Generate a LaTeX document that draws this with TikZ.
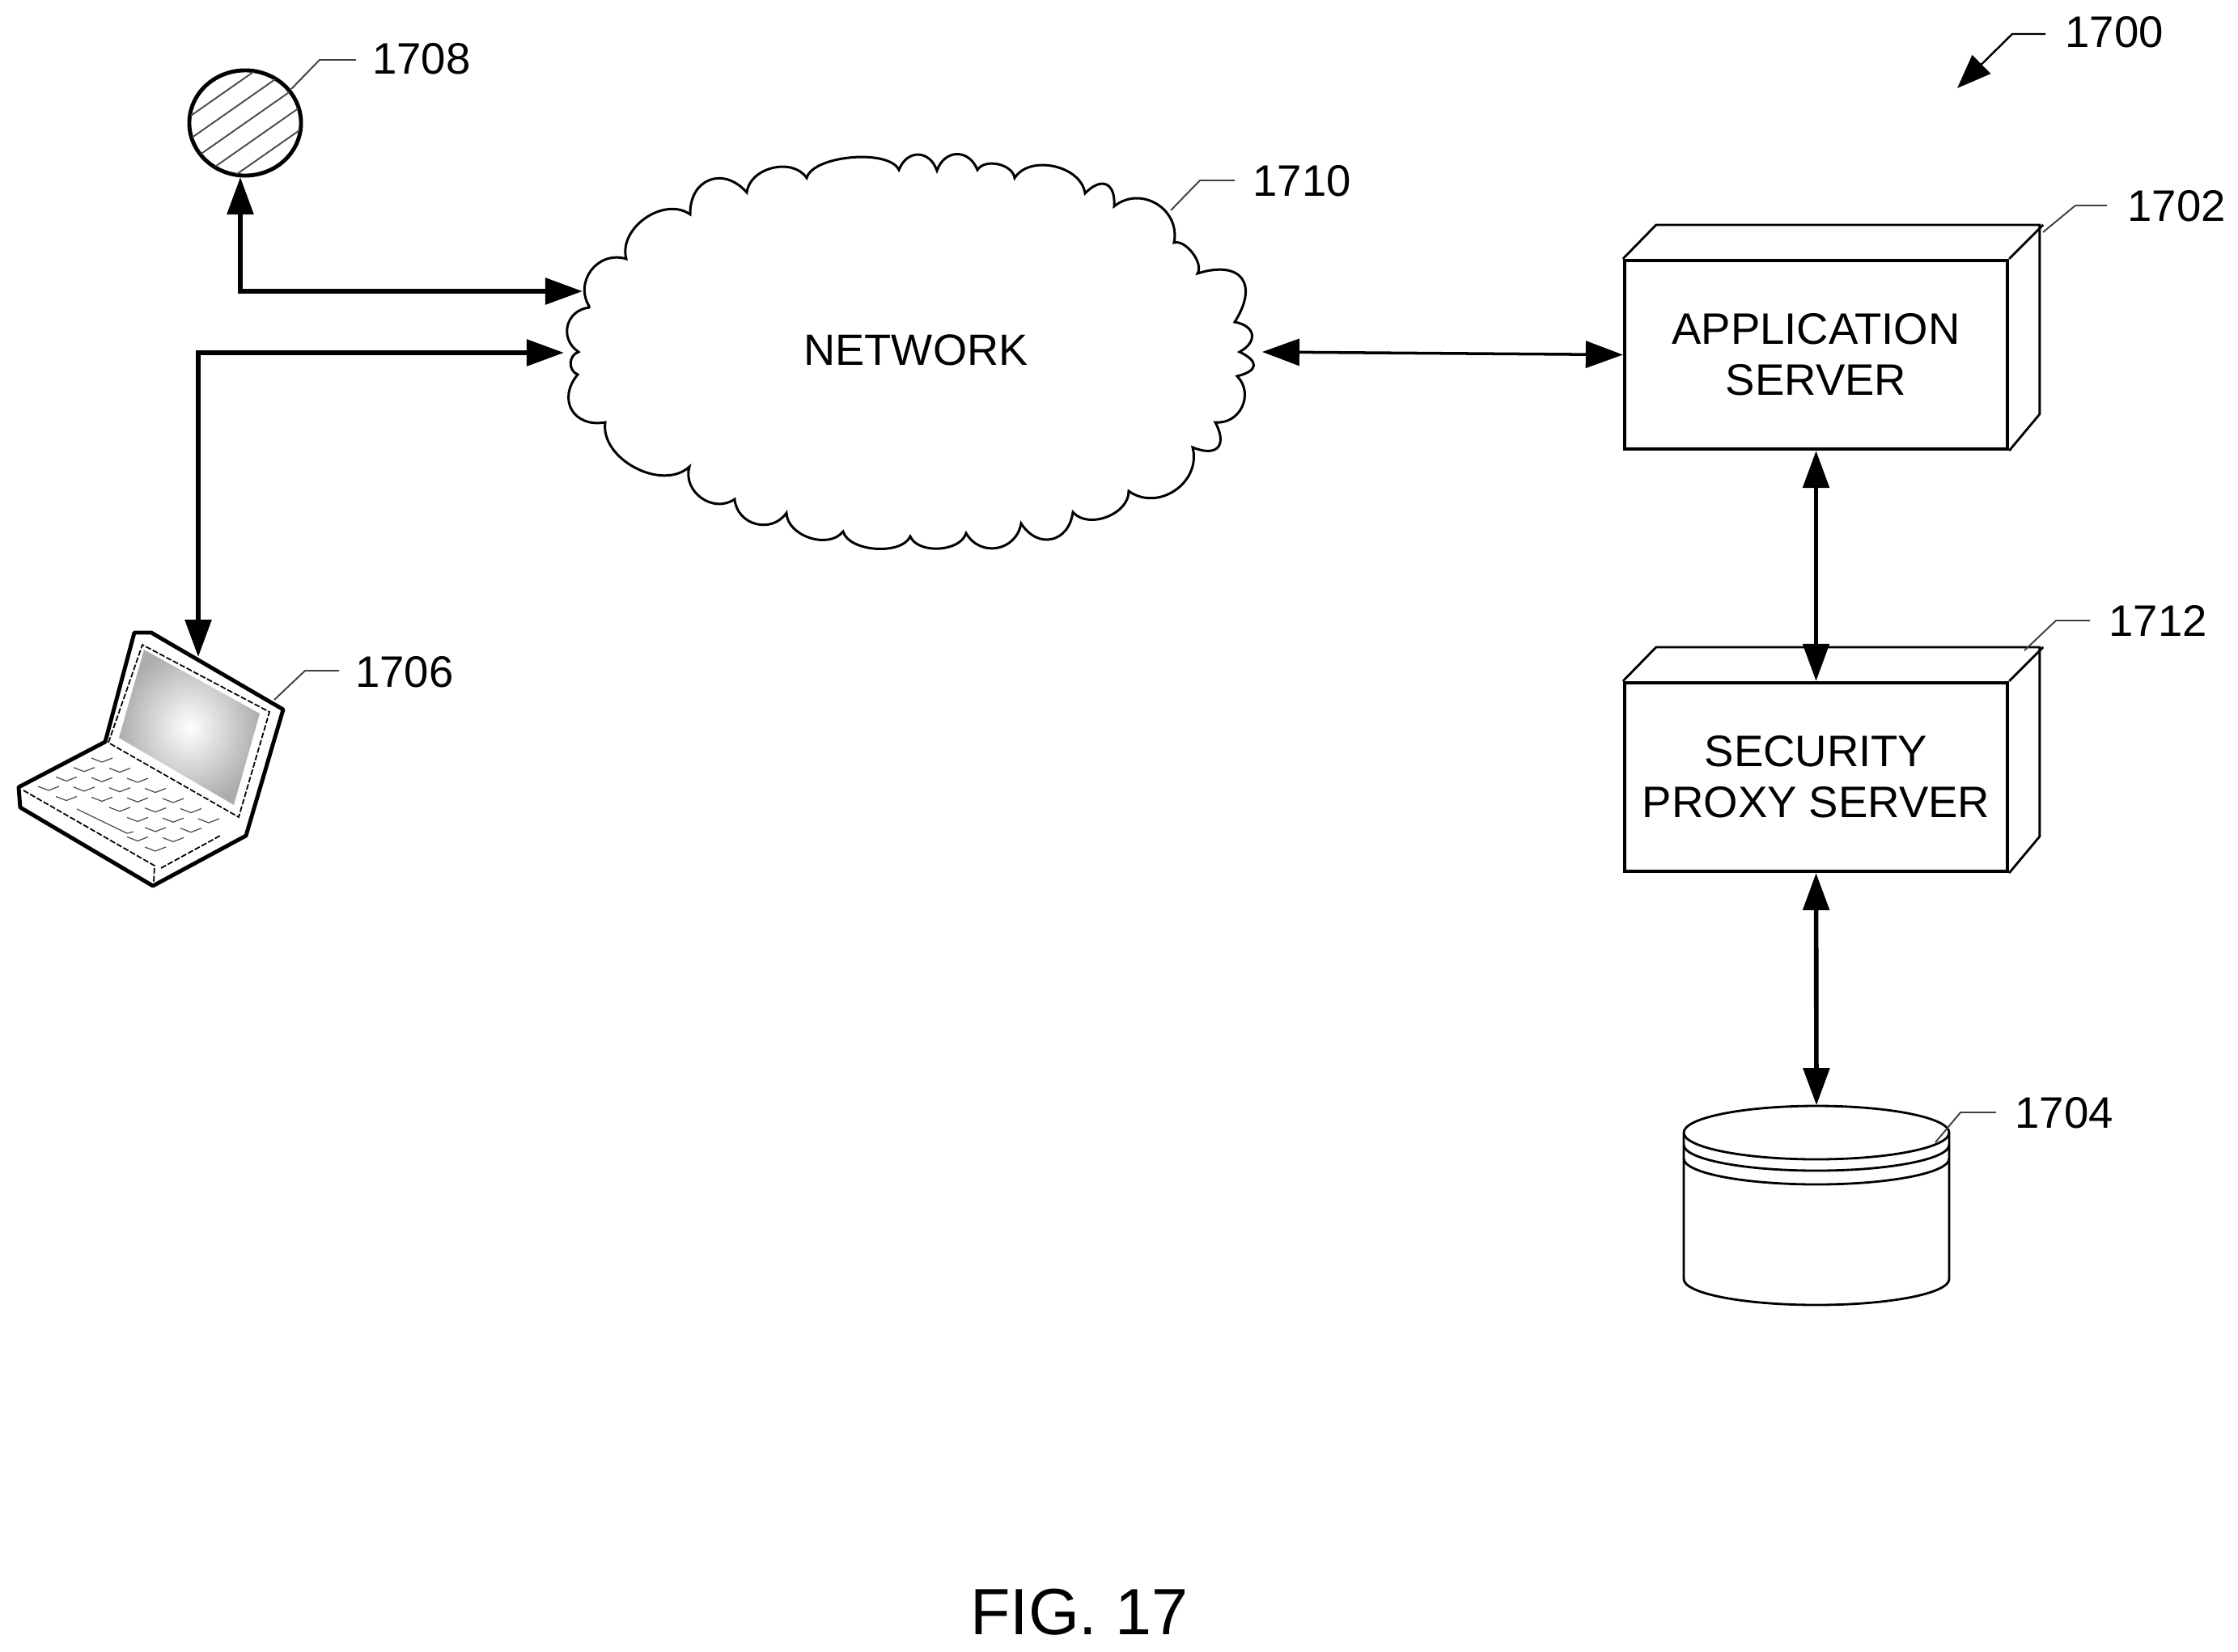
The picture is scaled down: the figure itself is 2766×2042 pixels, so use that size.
\documentclass[tikz,border=0pt]{standalone}
\usepackage{fontspec}
\setmainfont{Liberation Sans}
\usetikzlibrary{arrows.meta,shapes.geometric}

\begin{document}
\begin{tikzpicture}[
    x=0.01cm, y=-0.01cm,
    server/.style={draw, line width=1.15pt, minimum width=4.73cm, minimum height=2.33cm, align=center, inner sep=0pt, font=\fontsize{15.5}{18}\selectfont},
    depth/.style={line width=0.8pt},
    refnum/.style={inner sep=0pt, font=\fontsize{15.5}{18}\selectfont},
    leader/.style={line width=0.55pt, black!75},
    arrow/.style={<->, line width=1.6pt, >={Triangle[length=4.6mm,width=3.2mm]}},
    thinarrow/.style={<->, line width=1pt, >={Triangle[length=4.6mm,width=3.3mm]}},
    bump/.style={bend left=70, looseness=#1},
    hatchline/.style={line width=0.55pt, black!70},
    keystroke/.style={line width=0.35pt, black!70},
    lidline/.style={line width=0.5pt, densely dashed, dash pattern=on 2pt off 0.7pt}
]
    \useasboundingbox (0,0) rectangle (2766,2042);

    % Servers
    \node[server] (app) at (2244.5,438.5) {APPLICATION\\SERVER};
    \node[server] (proxy) at (2244.5,960.5) {SECURITY\\PROXY SERVER};
    \foreach \b in {app,proxy} {
        \draw[depth] (\b.north west) -- ++(41,-42) -- ++(474,0) -- ++(0,234) -- (\b.south east);
        \draw[depth] (\b.north east) -- ++(42,-42);
    }

    % Database
    \node[inner sep=0pt, minimum width=3.28cm, minimum height=2.46cm] (db) at (2245,1490) {};
    \draw[line width=0.8pt] (2081,1400) arc[start angle=180, delta angle=360, x radius=164, y radius=33];
    \draw[line width=0.8pt] (2081,1400) -- (2081,1581) arc[start angle=180, delta angle=-180, x radius=164, y radius=32] -- (2409,1400);
    \draw[line width=0.8pt] (2081,1415) arc[start angle=180, delta angle=-180, x radius=164, y radius=32];
    \draw[line width=0.8pt] (2081,1432) arc[start angle=180, delta angle=-180, x radius=164, y radius=32];

    % Network cloud
    \node[inner sep=0pt, font=\fontsize{15.4}{18}\selectfont] (network) at (1132,433) {NETWORK};
    \draw[line width=0.85pt] (729,380) to[bump=1.27] (774,320) to[bump=1.05] (853,265) to[bump=1.5] (923,238)
        to[bump=1.05] (997,220) to[bump=0.65] (1111,210) to[bump=1.5] (1158,211) to[bump=1.45] (1208,210)
        to[bump=0.95] (1254,220) to[bump=1] (1341,239) to[bump=1.9] (1377,255) to[bump=1.25] (1451,300)
        to[bump=0.8] (1480,338) to[bump=1.9] (1526,398) to[bump=1.8] (1532,435) to[bump=2.3] (1529,465)
        to[bump=1.25] (1502,522) to[bump=2] (1474,553) to[bump=1.2] (1395,607) to[bump=1] (1326,633)
        to[bump=1.5] (1262,647) to[bump=1.3] (1194,659) to[bump=0.9] (1125,663) to[bump=0.8] (1042,657)
        to[bump=1] (972,634) to[bump=1.25] (908,617) to[bump=1.2] (852,577) to[bump=1] (748,522)
        to[bump=1.5] (714,463) to[bump=1.2] (715,435) to[bump=1.35] (729,380);

    % Round device
    \node[draw, ellipse, line width=1.4pt, inner sep=0pt, minimum width=1.38cm, minimum height=1.30cm] (device) at (303,152) {};
    \begin{scope}
        \clip (303,152) ellipse (68 and 64);
        \foreach \d in {-84,-56,-28,0,28,56,84}
            \draw[hatchline] (203,222+\d) -- (403,82+\d);
    \end{scope}

    % Laptop
    \draw[line width=1.4pt, line join=round] (23,973) -- (130,917) -- (166,782) -- (187,782) -- (350,877)
        -- (304,1033) -- (189,1095) -- (25,998) -- cycle;
    \draw[lidline] (134,918) -- (176,797) -- (333,880) -- (295,1010) -- cycle;
    \shade[inner color=white, outer color=black!32] (147,912) -- (178,803) -- (321,882) -- (289,995) -- cycle;
    \draw[lidline] (29,977) -- (191,1070) -- (190,1090);
    \draw[lidline] (199,1073) -- (272,1033);
    \foreach \i in {0,...,6}
        \foreach \j in {0,1,2}
            \draw[keystroke, shift={(126+22*\i-22*\j,942+12.5*\i+11.7*\j)}] (-13,-5) -- (0,0) -- (13,-5);
    \foreach \i in {0,1,5,6}
        \draw[keystroke, shift={(126+22*\i-66,942+12.5*\i+35)}] (-13,-5) -- (0,0) -- (13,-5);
    \draw[keystroke] (95,1000) -- (157,1030) -- (165,1028);

    % Connector ends
    \coordinate (deviceport) at (297,219);
    \coordinate (rimupper) at (720,360);
    \coordinate (rimlower) at (697,436);
    \coordinate (rimright) at (1560,435);
    \coordinate (laptoptop) at (245,812);
    \coordinate (corner) at (245,436);

    % Flows
    \draw[arrow] (deviceport) |- (rimupper);
    \draw[arrow] (laptoptop) -- (corner) -- (rimlower);
    \draw[thinarrow] (rimright) -- (app.west);
    \draw[arrow] (app.south) -- (proxy.north);
    \draw[arrow] (proxy.south) -- (db.north);

    % Reference numerals
    \node[refnum] (n1708) at (521,73) {1708};
    \coordinate (t1708) at (360,110);
    \draw[leader] (t1708) -- (395,74) -- (440,74);
    \node[refnum] (n1710) at (1609,224) {1710};
    \coordinate (t1710) at (1447,260);
    \draw[leader] (t1710) -- (1483,223) -- (1526,223);
    \node[refnum] (n1702) at (2690,255) {1702};
    \coordinate (t1702) at (2525,287);
    \draw[leader] (t1702) -- (2565,254) -- (2604,254);
    \node[refnum] (n1712) at (2667,767) {1712};
    \coordinate (t1712) at (2502,804);
    \draw[leader] (t1712) -- (2541,767) -- (2583,767);
    \node[refnum] (n1704) at (2551,1376) {1704};
    \coordinate (t1704) at (2392,1412);
    \draw[leader] (t1704) -- (2423,1375) -- (2467,1375);
    \node[refnum] (n1706) at (500,831) {1706};
    \coordinate (t1706) at (339,865);
    \draw[leader] (t1706) -- (377,829) -- (419,829);

    % Figure arrow and caption
    \node[refnum] (n1700) at (2613,40) {1700};
    \coordinate (t1700) at (2419,109);
    \draw[line width=0.7pt, -{Triangle[length=4.2mm,width=3.2mm]}] (2528,42) -- (2487,42) -- (t1700);
    \node[inner sep=0pt, font=\fontsize{23}{26}\selectfont] (caption) at (1334,1993) {FIG. 17};
\end{tikzpicture}
\end{document}
